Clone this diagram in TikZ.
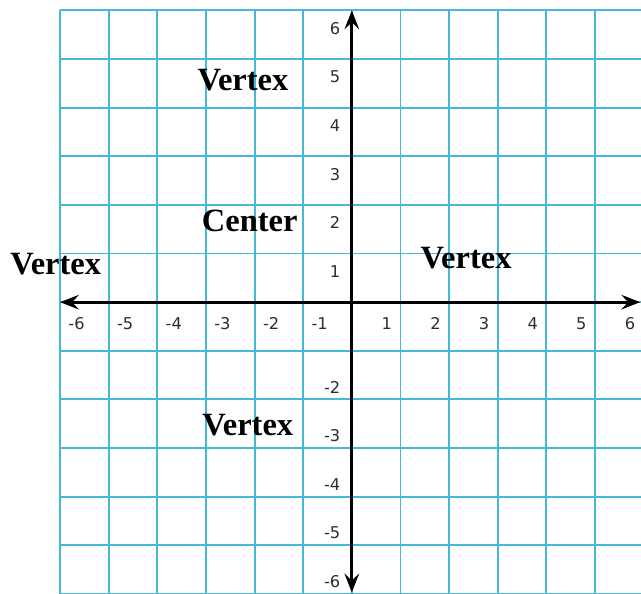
\documentclass[tikz,border=0pt]{standalone}
\usepackage{fontspec}
\setmainfont{Liberation Serif}
\newfontfamily\tickfont{DejaVu Sans}
\usetikzlibrary{arrows.meta}
\definecolor{gridblue}{RGB}{70,185,215}
\definecolor{ticktext}{RGB}{45,45,45}

\begin{document}
\begin{tikzpicture}[>={Stealth[length=11pt,width=8.5pt,inset=4pt]},
    gridline/.style={gridblue,line width=1.1pt},
    axis/.style={->,line width=1.7pt,black},
    tick/.style={font=\tickfont\fontsize{9.5}{11}\selectfont,text=ticktext,inner sep=0pt,anchor=base},
    lbl/.style={font=\bfseries\fontsize{19}{21}\selectfont,inner sep=0pt}]

  \clip (-7.235,-5.988) rectangle (5.947,6.214);

  % grid
  \foreach \k in {-6,...,6} {
    \draw[gridline] (\k,-6) -- (\k,6);
    \draw[gridline] (-6,\k) -- (6,\k);
  }

  % axes
  \coordinate (xl) at (-6,0);
  \coordinate (xr) at (5.93,0);
  \coordinate (yb) at (0,-5.97);
  \coordinate (yt) at (0,6);
  \draw[axis] (0,0) -- (xr);
  \draw[axis] (0,0) -- (xl);
  \draw[axis] (0,0) -- (yt);
  \draw[axis] (0,0) -- (yb);

  % tick labels
  \foreach \k in {1,...,6} {
    \node[tick] (xp\k) at (\k-0.28,-0.57) {\k};
    \node[tick] (xn\k) at (-\k+0.34,-0.57) {-\k};
    \node[tick,anchor=base east] (yp\k) at (-0.23,\k-0.49) {\k};
  }
  \foreach \k in {2,...,6} {
    \node[tick,anchor=base east] (yn\k) at (-0.23,-\k+0.13) {-\k};
  }

  % labels
  \node[lbl] (vtop)    at (-2.24,4.57)  {Vertex};
  \node[lbl] (center)  at (-2.10,1.67)  {Center};
  \node[lbl] (vleft)   at (-6.09,0.78)  {Vertex};
  \node[lbl] (vright)  at (2.35,0.91)   {Vertex};
  \node[lbl] (vbottom) at (-2.14,-2.53) {Vertex};
\end{tikzpicture}
\end{document}
